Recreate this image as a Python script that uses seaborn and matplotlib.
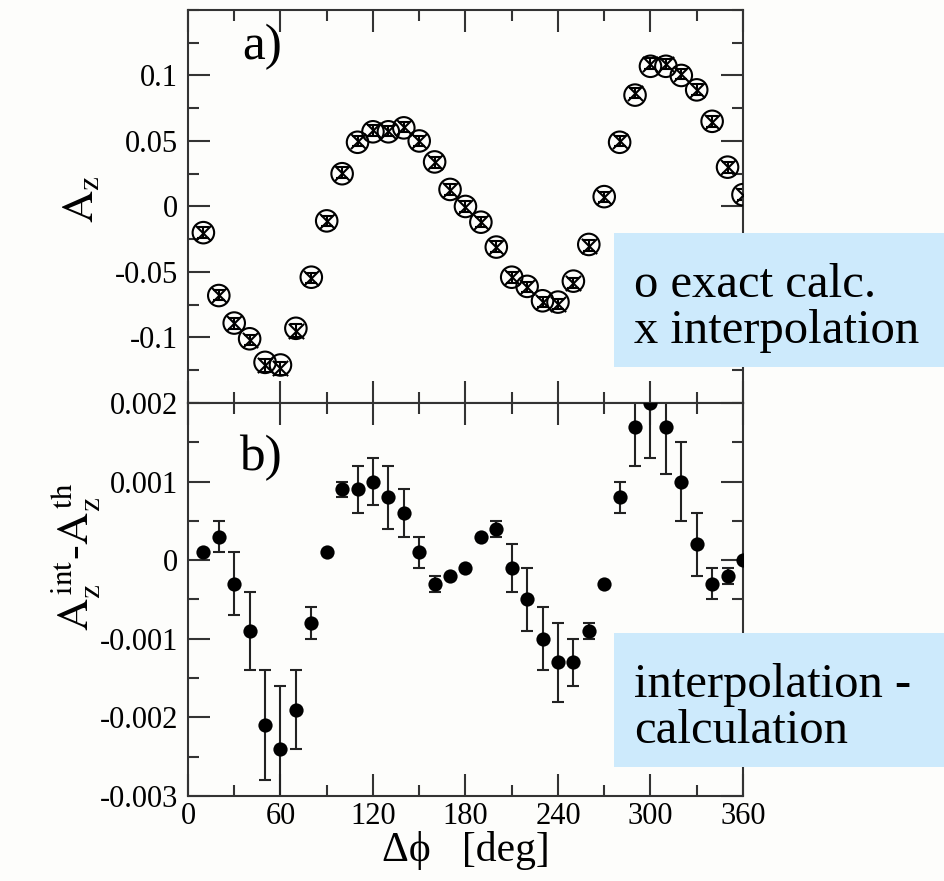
import numpy as np
import seaborn as sns
import matplotlib.pyplot as plt
from matplotlib.ticker import FixedLocator, MultipleLocator, FuncFormatter
from matplotlib.patches import Rectangle

# delta phi in degrees
phi = [10, 20, 30, 40, 50, 60, 70, 80, 90, 100, 110, 120, 130, 140, 150, 160, 170, 180,
       190, 200, 210, 220, 230, 240, 250, 260, 270, 280, 290, 300, 310, 320, 330, 340, 350, 360]

# panel a) exact calculation of A_z
az_exact = [-0.020, -0.068, -0.089, -0.101, -0.119, -0.121, -0.093, -0.054, -0.011, 0.025,
            0.049, 0.057, 0.057, 0.060, 0.050, 0.034, 0.013, 0.000, -0.012, -0.031,
            -0.054, -0.061, -0.072, -0.073, -0.057, -0.029, 0.0075, 0.049, 0.085, 0.107,
            0.107, 0.100, 0.089, 0.065, 0.030, 0.009]
az_err = [0.004, 0.004, 0.004, 0.004, 0.005, 0.005, 0.005, 0.004, 0.004, 0.004,
          0.004, 0.004, 0.004, 0.004, 0.004, 0.004, 0.004, 0.004, 0.004, 0.004,
          0.004, 0.004, 0.004, 0.004, 0.004, 0.004, 0.004, 0.004, 0.004, 0.004,
          0.004, 0.004, 0.004, 0.004, 0.004, 0.004]

# panel b) interpolation minus calculation
az_diff = [0.0001, 0.0003, -0.0003, -0.0009, -0.0021, -0.0024, -0.0019, -0.0008, 0.0001, 0.0009,
           0.0009, 0.0010, 0.0008, 0.0006, 0.0001, -0.0003, -0.0002, -0.0001, 0.0003, 0.0004,
           -0.0001, -0.0005, -0.0010, -0.0013, -0.0013, -0.0009, -0.0003, 0.0008, 0.0017, 0.0020,
           0.0017, 0.0010, 0.0002, -0.0003, -0.0002, 0.0000]
diff_err = [0.0, 0.0002, 0.0004, 0.0005, 0.0007, 0.0008, 0.0005, 0.0002, 0.0, 0.0001,
            0.0003, 0.0003, 0.0004, 0.0003, 0.0002, 0.0001, 0.0, 0.0, 0.0, 0.0001,
            0.0003, 0.0004, 0.0004, 0.0005, 0.0003, 0.0001, 0.0, 0.0002, 0.0005, 0.0007,
            0.0006, 0.0005, 0.0004, 0.0002, 0.0001, 0.0]

az_interp = np.array(az_exact) + np.array(az_diff)

sns.set_theme(style="ticks")
plt.rcParams['font.family'] = ['Liberation Serif', 'DejaVu Serif']
plt.rcParams['mathtext.fontset'] = 'stix'
plt.rcParams['axes.unicode_minus'] = False
for key in ('text.color', 'axes.labelcolor', 'xtick.labelcolor', 'ytick.labelcolor'):
    plt.rcParams[key] = 'black'

bg = '#fdfdfb'
fig = plt.figure(figsize=(9.45, 8.81), dpi=100, facecolor=bg)
ax1 = fig.add_axes([0.1989, 0.5426, 0.5873, 0.4461])
ax2 = fig.add_axes([0.1989, 0.0965, 0.5873, 0.4461], sharex=ax1)

# top panel
ax1.errorbar(phi, az_interp, yerr=az_err, fmt='none', ecolor='black', elinewidth=1.5,
             capsize=4, capthick=1.5, zorder=2)
sns.scatterplot(x=phi, y=az_exact, ax=ax1, marker='o', s=240, facecolor='none',
                edgecolor='black', linewidth=1.5, zorder=3)
sns.scatterplot(x=phi, y=az_interp, ax=ax1, marker='x', s=120, color='black',
                linewidth=1.5, zorder=4)

# bottom panel
ax2.errorbar(phi, az_diff, yerr=diff_err, fmt='none', ecolor='#222222', elinewidth=1.5,
             capsize=4.5, capthick=1.5, zorder=2)
sns.scatterplot(x=phi, y=az_diff, ax=ax2, marker='o', s=105, color='black',
                edgecolor='black', linewidth=0, zorder=3)

ax1.set_xlim(0, 360)
ax1.set_ylim(-0.15, 0.15)
ax2.set_ylim(-0.003, 0.002)

fmt = FuncFormatter(lambda v, p: '%g' % round(v, 6))
ax1.yaxis.set_major_locator(FixedLocator([-0.1, -0.05, 0, 0.05, 0.1]))
ax1.yaxis.set_minor_locator(MultipleLocator(0.025))
ax1.yaxis.set_major_formatter(fmt)
ax2.yaxis.set_major_locator(MultipleLocator(0.001))
ax2.yaxis.set_minor_locator(MultipleLocator(0.0005))
ax2.yaxis.set_major_formatter(fmt)
ax2.xaxis.set_major_locator(MultipleLocator(60))
ax2.xaxis.set_minor_locator(MultipleLocator(30))

for ax in (ax1, ax2):
    ax.set_facecolor(bg)
    for s in ax.spines.values():
        s.set_linewidth(1.5)
        s.set_color('#333333')
    ax.tick_params(which='both', direction='in', top=True, right=True,
                   width=1.5, color='#333333', labelsize=22, labelcolor='black')
    ax.tick_params(which='major', length=16, pad=7)
    ax.tick_params(which='minor', length=8)
ax1.tick_params(axis='x', labelbottom=False)
ax2.tick_params(axis='x', pad=4)

ax1.set_xlabel('')
ax2.set_xlabel('Δϕ   [deg]', fontsize=30, labelpad=0, color='black')
ax1.set_ylabel(r'$\mathrm{A_z}$', fontsize=32, color='black')
ax2.set_ylabel(r'$\mathrm{A_z^{\,int}}$' + '-' + r'$\mathrm{A_z^{\,th}}$', fontsize=32, color='black')
ax1.yaxis.set_label_coords(-0.155, 0.52)
ax2.yaxis.set_label_coords(-0.155, 0.61)

ax1.text(48, 0.122, 'a)', fontsize=37, ha='center', va='center', color='black')
ax2.text(47, 0.0013, 'b)', fontsize=37, ha='center', va='center', color='black')

# annotation boxes
box_color = '#cdeafc'
for y0, y1, txt in [(233, 367, 'o exact calc.\nx interpolation'),
                    (633, 767, 'interpolation -\ncalculation')]:
    fig.patches.append(Rectangle((614 / 945, 1 - y1 / 881), (945 - 614) / 945, (y1 - y0) / 881,
                                 transform=fig.transFigure, facecolor=box_color,
                                 edgecolor='none', zorder=5))
    fig.text(634 / 945, 1 - ((y0 + y1) / 2 + 8) / 881, txt, fontsize=35, ha='left', va='center',
             linespacing=1.05, zorder=6, color='black')

fig.savefig('out.png', dpi=100, facecolor=bg)
